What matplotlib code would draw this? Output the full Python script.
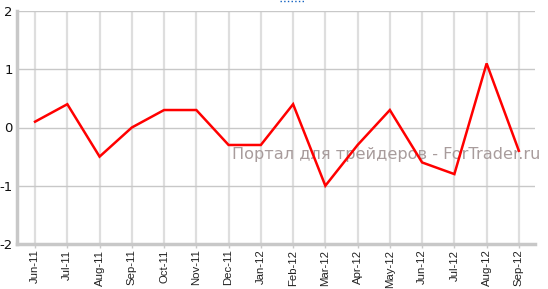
import matplotlib
matplotlib.use('Agg')
import matplotlib.pyplot as plt

months = ['Jun-11', 'Jul-11', 'Aug-11', 'Sep-11', 'Oct-11', 'Nov-11', 'Dec-11', 'Jan-12',
          'Feb-12', 'Mar-12', 'Apr-12', 'May-12', 'Jun-12', 'Jul-12', 'Aug-12', 'Sep-12']
values = [0.1, 0.4, -0.5, 0.0, 0.3, 0.3, -0.3, -0.3, 0.4, -1.0, -0.3, 0.3, -0.6, -0.8, 1.1, -0.4]
yticks = [-2, -1, 0, 1, 2]

fig = plt.figure(figsize=(5.48, 2.89), dpi=100)
ax = fig.add_axes([17 / 548, 45 / 289, (535 - 17) / 548, (244 - 11) / 289])

x = list(range(len(months)))
for xi in x:
    ax.axvline(xi, color='#dedede', lw=1.6, zorder=0)
for yv in yticks:
    ax.axhline(yv, color='#c8c8c8', lw=1.0, zorder=0)

ax.plot(x, values, color='#ff0000', lw=1.8, zorder=3, solid_joinstyle='miter')

ax.set_xlim(-0.56, 15.5)
ax.set_ylim(-2, 2)
ax.set_xticks(x)
ax.set_xticklabels(months, rotation=90, fontsize=8.2, color='#222222', family='Liberation Sans')
ax.set_yticks(yticks)
ax.set_yticklabels([str(v) for v in yticks], fontsize=9.5, color='#111111')
ax.tick_params(axis='y', length=0, pad=3)
ax.tick_params(axis='x', length=3, width=1, color='#c8c8c8', pad=1)

for s in ['top', 'right']:
    ax.spines[s].set_visible(False)
for s in ['left', 'bottom']:
    ax.spines[s].set_color('#c8c8c8')
    ax.spines[s].set_linewidth(2.5)

ax.text(232 / 548, 1 - 155 / 289, 'Портал для трейдеров - ForTrader.ru', fontsize=11.6,
        color='#a89c9c', va='center', ha='left', transform=fig.transFigure, zorder=2)
fig.lines.append(plt.Line2D([280 / 548, 305 / 548], [1 - 0.5 / 289, 1 - 0.5 / 289],
                            transform=fig.transFigure, color='#1060c0', lw=1, ls=':'))

fig.savefig('out.png', dpi=100)
